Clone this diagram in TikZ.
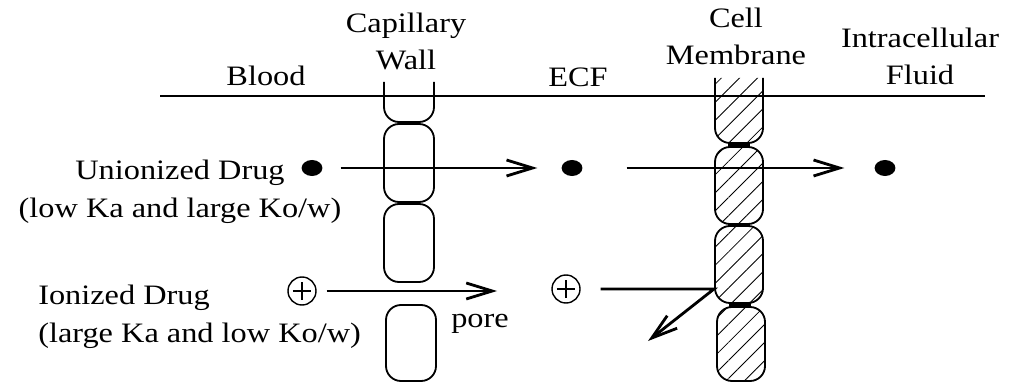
\documentclass[tikz,border=0pt]{standalone}
\usepackage{fontspec}
\setmainfont{Liberation Serif}[FakeStretch=1.15]
\usetikzlibrary{arrows.meta, positioning, calc, patterns.meta, shapes.geometric}
\definecolor{cellink}{HTML}{000000}

\begin{document}
\begin{tikzpicture}[x=0.25mm, y=-0.25mm,
  lbl/.style={font=\fontsize{20}{27}\selectfont, align=center, inner sep=0pt, cellink},
  wallseg/.style={line width=1.3pt, rounded corners=3.75mm, cellink},
  hatched/.style={pattern={Lines[angle=45, distance=3.2mm, line width=0.6pt]}},
  joint/.style={line width=3pt, cellink},
  drugdot/.style={ellipse, fill=cellink, minimum width=5.2mm, minimum height=4mm, inner sep=0pt},
  ion/.style={circle, draw=cellink, line width=1pt, minimum size=7mm, inner sep=0pt,
    path picture={\draw[line width=1pt] ([xshift=-2.3mm]path picture bounding box.center) -- ++(4.6mm,0)
      ([yshift=-2.3mm]path picture bounding box.center) -- ++(0,4.6mm);}},
  flow/.style={line width=2pt, cellink, -{Straight Barb[length=6.5mm, width=4mm]}}]
  \useasboundingbox (0,0) rectangle (1010,383);

  % Compartments
  \draw[line width=1.4pt, cellink] (160,96) -- (985,96);
  \node[lbl, anchor=base] (blood) at (266,86) {Blood};
  \node[lbl, anchor=base] (ecf) at (578,87) {ECF};
  \node[lbl, anchor=base] (capwall) at (406,70) {Capillary\\Wall};
  \node[lbl, anchor=base] (cellmem) at (736,65) {Cell\\Membrane};
  \node[lbl, anchor=base] (icf) at (920,85) {Intracellular\\Fluid};

  % Capillary wall
  \draw[wallseg] (384,82) -- (384,122) -- (434,122) -- (434,82);
  \draw[wallseg] (384,124) rectangle (434,202);
  \draw[wallseg] (384,204) rectangle (434,282);
  \draw[wallseg] (386,305) rectangle (436,381);
  \draw[joint] (398,123) -- (420,123);
  \draw[joint] (398,203) -- (420,203);

  % Cell membrane
  \draw[wallseg, hatched] (715,78) -- (715,143) -- (763,143) -- (763,78);
  \draw[wallseg, hatched] (715,147) rectangle (763,224);
  \draw[wallseg, hatched] (715,226) rectangle (763,303);
  \draw[wallseg, hatched] (717,307) rectangle (765,381);
  \draw[joint] (728,145) -- (750,145);
  \draw[joint] (728,225) -- (750,225);
  \draw[joint] (729,305) -- (751,305);

  % Unionized drug
  \node[lbl, anchor=base] (unionized) at (180,217) {Unionized Drug\\(low Ka and large Ko/w)};
  \node[drugdot] (u1) at (312,168) {};
  \node[drugdot] (u2) at (572,168) {};
  \node[drugdot] (u3) at (885,168) {};
  \draw[flow, shorten <=4.5mm, shorten >=6mm] (u1) -- (u2);
  \draw[flow, shorten <=11mm, shorten >=7.5mm] (u2) -- (u3);

  % Ionized drug
  \node[lbl, align=left, anchor=base west] (ionized) at (38,342) {Ionized Drug\\(large Ka and low Ko/w)};
  \node[ion] (i1) at (302,291) {};
  \node[ion] (i2) at (566,289) {};
  \coordinate (pore) at (497,291);
  \coordinate (hit) at (714,289);
  \coordinate (bounce) at (648,341);
  \draw[flow, shorten <=2.5mm] (i1) -- (pore);
  \node[lbl, anchor=base] (porelbl) at (480,327) {pore};
  \draw[flow, shorten <=5mm] (i2) -- (hit) -- (bounce);
\end{tikzpicture}
\end{document}
